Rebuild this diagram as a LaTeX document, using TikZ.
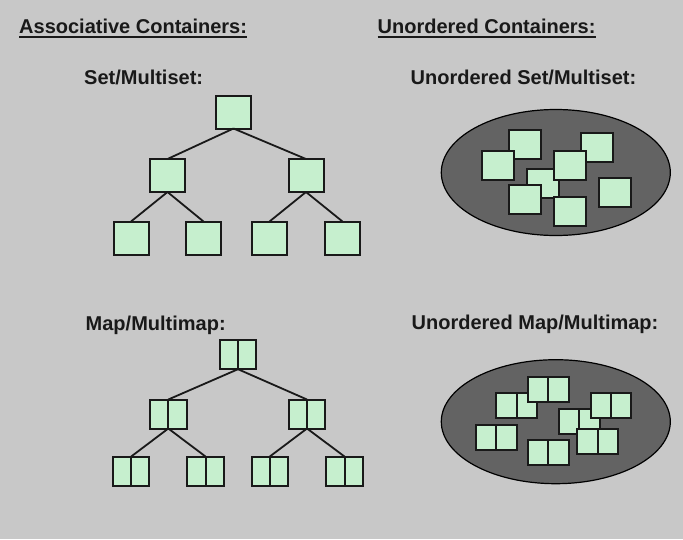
\documentclass[tikz,border=0pt]{standalone}
\usepackage{fontspec}
\setmainfont{Liberation Sans}
\usetikzlibrary{shapes.geometric}
\definecolor{bgray}{RGB}{200,200,200}
\definecolor{boxgreen}{RGB}{198,239,206}
\definecolor{ovalgray}{RGB}{99,99,99}
\tikzset{
  cell/.style={draw=black!90, fill=boxgreen, line width=2pt, minimum width=35pt, minimum height=33pt, inner sep=0pt, outer sep=0pt},
  loose/.style={cell, minimum width=32pt, minimum height=29pt},
  pair/.style={cell, minimum width=36.5pt, minimum height=29pt,
    path picture={\draw[line width=2pt, black!90] (path picture bounding box.north) -- (path picture bounding box.south);}},
  loosepair/.style={pair, minimum width=40.7pt, minimum height=24.7pt},
  treeline/.style={line width=1.8pt, black!90},
  hdr/.style={font=\fontsize{20}{24}\selectfont\bfseries, anchor=base west, inner sep=0pt, text=black!90},
  uline/.style={line width=1.8pt, black!90},
  oval/.style={ellipse, draw=black, fill=ovalgray, line width=1.2pt, minimum width=229pt, inner sep=0pt}
}
\begin{document}
\begin{tikzpicture}[x=1pt, y=-1pt]
\useasboundingbox[fill=bgray] (0,0) rectangle (683,539);

% headings
\node[hdr] (h1) at (19,33.3) {Associative Containers:};
\node[hdr] (h2) at (377.5,33.3) {Unordered Containers:};
\draw[uline] ([yshift=-4pt]h1.base west) -- ([yshift=-4pt]h1.base east);
\draw[uline] ([yshift=-4pt]h2.base west) -- ([yshift=-4pt]h2.base east);
\node[hdr] (t1) at (84,84) {Set/Multiset:};
\node[hdr] (t2) at (410.5,84) {Unordered Set/Multiset:};
\node[hdr] (t3) at (85.5,330) {Map/Multimap:};
\node[hdr] (t4) at (411.5,329.5) {Unordered Map/Multimap:};

% set tree
\node[cell] (s0) at (233.5,112) {};
\node[cell] (s1) at (167.5,175.5) {};
\node[cell] (s2) at (306,175.5) {};
\node[cell] (s3) at (131,238) {};
\node[cell] (s4) at (203.5,238) {};
\node[cell] (s5) at (269.5,238) {};
\node[cell] (s6) at (342.5,238) {};
\draw[treeline] (s0.south) -- (s1.north);
\draw[treeline] (s0.south) -- (s2.north);
\draw[treeline] (s1.south) -- (s3.north);
\draw[treeline] (s1.south) -- (s4.north);
\draw[treeline] (s2.south) -- (s5.north);
\draw[treeline] (s2.south) -- (s6.north);

% map tree
\node[pair] (m0) at (238,354.7) {};
\node[pair] (m1) at (168.3,414) {};
\node[pair] (m2) at (307,414) {};
\node[pair] (m3) at (131.2,471) {};
\node[pair] (m4) at (205.5,471) {};
\node[pair] (m5) at (269.8,471) {};
\node[pair] (m6) at (344.5,471) {};
\draw[treeline] (m0.south) -- (m1.north);
\draw[treeline] (m0.south) -- (m2.north);
\draw[treeline] (m1.south) -- (m3.north);
\draw[treeline] (m1.south) -- (m4.north);
\draw[treeline] (m2.south) -- (m5.north);
\draw[treeline] (m2.south) -- (m6.north);

% unordered set
\node[oval, minimum height=126pt] (bag1) at (555.8,172.5) {};
\node[loose] (u1) at (524.7,144.3) {};
\node[loose] (u2) at (497.5,165.8) {};
\node[loose] (u3) at (596.8,147.7) {};
\node[loose] (u5) at (542.8,183.3) {};
\node[loose] (u4) at (570,165.7) {};
\node[loose] (u6) at (525,199.7) {};
\node[loose] (u7) at (570,211) {};
\node[loose] (u8) at (614.7,192.5) {};

% unordered map
\node[oval, minimum height=124pt] (bag2) at (555.8,421.7) {};
\node[loosepair] (pA) at (516.5,405.5) {};
\node[loosepair] (pB) at (548.3,389.7) {};
\node[loosepair] (pC) at (579.2,421.7) {};
\node[loosepair] (pD) at (611,405.3) {};
\node[loosepair] (pE) at (597.5,441.7) {};
\node[loosepair] (pF) at (496.2,437.2) {};
\node[loosepair] (pG) at (548.3,452.2) {};
\end{tikzpicture}
\end{document}
